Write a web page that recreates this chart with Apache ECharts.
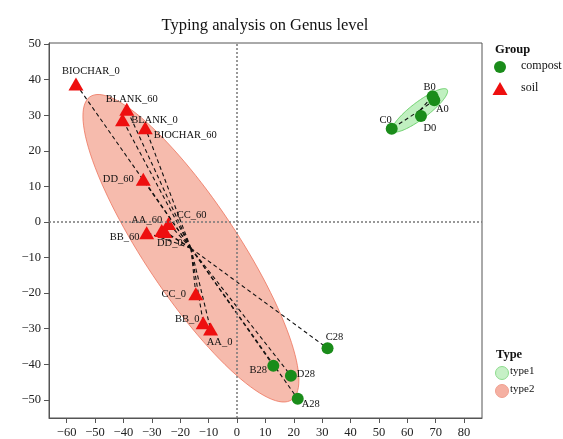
<!DOCTYPE html>
<html>
<head>
<meta charset="utf-8">
<script src="https://cdn.jsdelivr.net/npm/echarts@6/dist/echarts.min.js"></script>
<style>html,body{margin:0;padding:0;background:#fff}#c{width:563px;height:439px}</style>
</head>
<body>
<div id="c"></div>
<script>
// ---- data ----
const compostNames = ['A0', 'B0', 'C0', 'D0', 'A28', 'B28', 'C28', 'D28'];
const compostX = [69.5, 68.9, 54.5, 64.8, 21.4, 12.8, 31.9, 19.0];
const compostY = [34.2, 35.3, 26.2, 29.8, -49.7, -40.4, -35.5, -43.2];
const soilNames = ['BIOCHAR_0', 'BLANK_60', 'BLANK_0', 'BIOCHAR_60', 'DD_60', 'AA_60', 'CC_60', 'DD_0', 'BB_60', 'CC_0', 'BB_0', 'AA_0'];
const soilX = [-56.7, -38.8, -40.3, -32.3, -33.0, -26.5, -24.1, -25.4, -31.8, -14.5, -11.9, -9.3];
const soilY = [38.8, 31.7, 28.7, 26.5, 12.0, -2.4, -0.4, -2.7, -3.0, -20.2, -28.3, -30.1];
const type1Members = ['A0', 'B0', 'C0', 'D0'];
const type2Members = ['BIOCHAR_0', 'BLANK_60', 'BLANK_0', 'BIOCHAR_60', 'DD_60', 'AA_60', 'CC_60', 'DD_0', 'BB_60', 'CC_0', 'BB_0', 'AA_0', 'A28', 'B28', 'C28', 'D28'];
const xTicks = [-60, -50, -40, -30, -20, -10, 0, 10, 20, 30, 40, 50, 60, 70, 80];
const yTicks = [-50, -40, -30, -20, -10, 0, 10, 20, 30, 40, 50];

// ---- label offsets (style) ----
const labelOffset = {
  'BIOCHAR_0': [15, -13], 'BLANK_60': [5, -10], 'BLANK_0': [32, 0], 'BIOCHAR_60': [40, 8],
  'DD_60': [-25, 0], 'AA_60': [-15, -10], 'CC_60': [23, -8], 'DD_0': [5, 12], 'BB_60': [-22, 5],
  'CC_0': [-22, 0], 'BB_0': [-16, -3], 'AA_0': [9, 13],
  'C28': [7, -11], 'B28': [-15, 5], 'D28': [15, -1], 'A28': [13, 5],
  'B0': [-3, -9], 'A0': [8, 9], 'D0': [9, 12], 'C0': [-6, -8]
};

const FONT = '"Liberation Serif", "DejaVu Serif", serif';
const pos = {};
compostNames.forEach((n, i) => pos[n] = [compostX[i], compostY[i]]);
soilNames.forEach((n, i) => pos[n] = [soilX[i], soilY[i]]);

function stats(members) {
  const pts = members.map(n => pos[n]);
  const n = pts.length;
  const mx = pts.reduce((s, p) => s + p[0], 0) / n;
  const my = pts.reduce((s, p) => s + p[1], 0) / n;
  let sxx = 0, syy = 0, sxy = 0;
  pts.forEach(p => { sxx += (p[0] - mx) ** 2; syy += (p[1] - my) ** 2; sxy += (p[0] - mx) * (p[1] - my); });
  sxx /= (n - 1); syy /= (n - 1); sxy /= (n - 1);
  return { mx, my, sxx, syy, sxy };
}
function ellipse(members, kA, kB) {
  const s = stats(members);
  const tr = s.sxx + s.syy, det = s.sxx * s.syy - s.sxy * s.sxy;
  const l1 = tr / 2 + Math.sqrt(tr * tr / 4 - det), l2 = tr / 2 - Math.sqrt(tr * tr / 4 - det);
  const ang = Math.atan2(l1 - s.sxx, s.sxy);
  const a = kA * Math.sqrt(l1), b = kB * Math.sqrt(Math.max(l2, 0));
  const out = [];
  for (let i = 0; i < 120; i++) {
    const t = i / 120 * Math.PI * 2;
    const ex = a * Math.cos(t), ey = b * Math.sin(t);
    out.push([s.mx + ex * Math.cos(ang) - ey * Math.sin(ang), s.my + ex * Math.sin(ang) + ey * Math.cos(ang)]);
  }
  return out;
}
const ell1 = ellipse(type1Members, 1.4, 2.2);
const ell2 = ellipse(type2Members, 1.47, 1.95);
const st1 = stats(type1Members), st2 = stats(type2Members);
const spider = [];
type1Members.forEach(n => spider.push([pos[n][0], pos[n][1], st1.mx, st1.my]));
type2Members.forEach(n => spider.push([pos[n][0], pos[n][1], st2.mx, st2.my]));

function ellSeries(pts, fill, stroke) {
  return {
    type: 'custom', silent: true, z: 1,
    data: [[pts[0][0], pts[0][1]]],
    renderItem: (params, api) => ({
      type: 'polygon',
      shape: { points: pts.map(p => api.coord(p)) },
      style: { fill: fill, stroke: stroke, lineWidth: 1 }
    })
  };
}
const fmt = v => v < 0 ? '\u2212' + Math.abs(v) : String(v);
const mkLabel = n => ({ show: true, position: 'inside', offset: labelOffset[n] || [0, 0], formatter: n,
  fontFamily: FONT, fontSize: 10.5, color: '#111' });

const chart = echarts.init(document.getElementById('c'), null, { renderer: 'canvas' });
chart.setOption({
  animation: false,
  backgroundColor: '#fff',
  title: { text: 'Typing analysis on Genus level', left: 260, top: 12, textAlign: 'center',
    textStyle: { fontFamily: FONT, fontSize: 16.5, fontWeight: 'normal', color: '#111' } },
  grid: { left: 49, right: 81, top: 43, bottom: 21, show: true, borderColor: '#555', borderWidth: 1, backgroundColor: 'transparent' },
  xAxis: {
    type: 'value', min: -66.2, max: 86.3,
    axisLine: { show: true, onZero: false, lineStyle: { color: '#555' } },
    axisTick: { show: true, length: 5, customValues: xTicks, lineStyle: { color: '#555' } },
    axisLabel: { customValues: xTicks, formatter: fmt, fontFamily: FONT, fontSize: 12.5, color: '#222', margin: 8 },
    splitLine: { show: false }
  },
  yAxis: {
    type: 'value', min: -55.1, max: 50.3,
    axisLine: { show: true, onZero: false, lineStyle: { color: '#555' } },
    axisTick: { show: true, length: 5, customValues: yTicks, lineStyle: { color: '#555' } },
    axisLabel: { customValues: yTicks, formatter: fmt, fontFamily: FONT, fontSize: 12.5, color: '#222', margin: 8 },
    splitLine: { show: false }
  },
  series: [
    ellSeries(ell2, 'rgba(238,120,92,0.5)', 'rgba(236,110,85,0.75)'),
    ellSeries(ell1, 'rgba(130,225,130,0.5)', 'rgba(100,205,100,0.9)'),
    {
      type: 'custom', silent: true, z: 2,
      data: spider,
      encode: { x: [0, 2], y: [1, 3] },
      renderItem: (params, api) => {
        const p = api.coord([api.value(0), api.value(1)]);
        const c = api.coord([api.value(2), api.value(3)]);
        return { type: 'line', shape: { x1: c[0], y1: c[1], x2: p[0], y2: p[1] },
          style: { stroke: '#111', lineWidth: 1.1, lineDash: [4, 3] } };
      },
      markLine: {
        silent: true, symbol: 'none', label: { show: false },
        lineStyle: { color: '#777', type: [2, 2], width: 1.5 },
        data: [{ xAxis: 0 }, { yAxis: 0 }]
      }
    },
    {
      name: 'compost', type: 'scatter', symbol: 'circle', symbolSize: 12, z: 3,
      itemStyle: { color: '#1A8C1A', opacity: 1 },
      data: compostNames.map((n, i) => ({ value: [compostX[i], compostY[i]], label: mkLabel(n) }))
    },
    {
      name: 'soil', type: 'scatter', symbol: 'triangle', symbolSize: [15, 13], z: 3,
      itemStyle: { color: '#EE0F0F', opacity: 1 },
      data: soilNames.map((n, i) => ({ value: [soilX[i], soilY[i]], label: mkLabel(n) }))
    }
  ],
  graphic: [
    { type: 'text', left: 495, top: 43, style: { text: 'Group', font: 'bold 12.5px ' + FONT, fill: '#111' } },
    { type: 'circle', shape: { cx: 500, cy: 67, r: 6 }, style: { fill: '#1A8C1A' } },
    { type: 'text', left: 521, top: 60, style: { text: 'compost', font: '12px ' + FONT, fill: '#111' } },
    { type: 'polygon', shape: { points: [[500, 82], [507.5, 95], [492.5, 95]] }, style: { fill: '#EE0F0F' } },
    { type: 'text', left: 521, top: 82, style: { text: 'soil', font: '12px ' + FONT, fill: '#111' } },
    { type: 'text', left: 496, top: 348, style: { text: 'Type', font: 'bold 12.5px ' + FONT, fill: '#111' } },
    { type: 'circle', shape: { cx: 502, cy: 373, r: 6.5 }, style: { fill: '#C6F0C6', stroke: '#8EDC8E', lineWidth: 1 } },
    { type: 'text', left: 510, top: 366, style: { text: 'type1', font: '11px ' + FONT, fill: '#111' } },
    { type: 'circle', shape: { cx: 502, cy: 391, r: 6.5 }, style: { fill: '#F5B0A2', stroke: '#F0A090', lineWidth: 1 } },
    { type: 'text', left: 510, top: 384, style: { text: 'type2', font: '11px ' + FONT, fill: '#111' } }
  ]
});
</script>
</body>
</html>
